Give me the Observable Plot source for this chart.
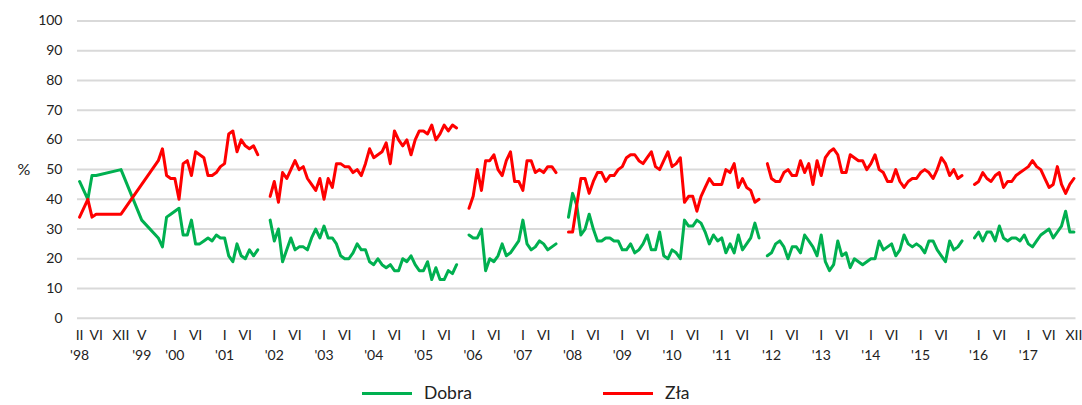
<!DOCTYPE html>
<html><head><meta charset="utf-8">
<script src="https://cdn.jsdelivr.net/npm/d3@7"></script>
<script src="https://cdn.jsdelivr.net/npm/@observablehq/plot@0.6"></script>
<style>
html,body{margin:0;padding:0;background:#fff;}
#wrap{position:relative;width:1082px;height:405px;font-family:Lato, "Open Sans", sans-serif;}
#chart svg{display:block;}
#legend{position:relative;height:33px;}
.item{position:absolute;top:10px;height:22px;line-height:22px;display:flex;align-items:center;font-size:17.5px;color:#222;white-space:nowrap;}
.sw{width:50px;height:3px;margin-right:12px;}
</style></head><body>
<div id="wrap"><div id="chart"></div><div id="legend"></div></div>
<script>
// Category index 0 = II 1998; one category per survey wave, empty slots split government terms.
const earlyWaves = [0, 2, 3, 4, 10, 15, 19];
const earlyDobra = [46, 40, 48, 48, 50, 33, 27];
const earlyZla   = [34, 40, 34, 35, 35, 45, 53];

// monthly waves, X 1999 – IX 2001
const start1 = 20;
const dobra1 = [24,34,35,36,37,28,28,33,25,25,26,27,26,28,27,27,21,19,25,21,20,23,21,23];
const zla1   = [57,48,47,47,40,52,53,48,56,55,54,48,48,49,51,52,62,63,56,60,58,57,58,55];
// XII 2001 – IX 2005
const start2 = 46;
const dobra2 = [33,26,30,19,23,27,23,24,24,23,27,30,27,31,27,27,25,21,20,20,22,25,23,23,19,18,20,18,17,18,16,16,20,19,21,18,16,16,19,13,17,13,13,16,15,18];
const zla2   = [41,46,39,49,47,50,53,50,51,47,45,43,47,40,47,44,52,52,51,51,49,50,48,52,57,54,55,56,59,52,63,60,58,60,55,60,63,63,62,65,60,62,65,63,65,64];
// XII 2005 – IX 2007
const start3 = 94;
const dobra3 = [28,27,27,30,16,20,19,21,25,21,22,24,26,33,25,23,24,26,25,23,24,25];
const zla3   = [37,41,50,43,53,53,55,50,48,53,56,46,46,43,53,53,49,50,49,51,51,49];
// XII 2007 – X 2011
const start4 = 118;
const dobra4 = [34,42,38,28,30,35,30,26,26,27,27,26,26,23,23,25,22,23,25,28,23,23,29,21,20,23,22,20,33,31,31,33,32,29,25,28,26,27,22,25,22,28,23,25,27,32,27];
const zla4   = [29,29,38,47,47,42,46,49,49,46,48,48,50,51,54,55,55,53,52,54,56,51,50,53,56,51,52,54,39,41,41,36,41,44,47,45,45,45,50,49,52,44,47,44,43,39,40];
// XII 2011 – 2015
const start5 = 166;
const dobra5 = [21,22,25,26,24,20,24,24,22,28,26,24,21,28,19,16,18,26,21,22,17,20,19,18,19,20,20,26,23,24,25,21,23,28,25,24,25,24,22,26,26,23,21,19,26,23,24,26];
const zla5   = [52,47,46,46,49,50,48,48,53,49,52,45,53,48,54,56,57,55,49,49,55,54,53,53,50,52,55,50,49,46,46,50,46,44,46,47,47,49,50,49,47,50,54,52,48,50,47,48];
// XII 2015 – XII 2017
const start6 = 216;
const dobra6 = [27,29,26,29,29,26,31,27,26,27,27,26,28,25,24,26,28,29,30,27,29,31,36,29,29];
const zla6   = [45,46,49,47,46,48,49,44,46,46,48,49,50,51,53,51,50,47,44,45,51,45,42,45,47];

const monthTickIdx = [0,4,10,15,23,28,35,40,47,52,59,64,71,76,83,88,95,100,107,112,119,124,131,136,143,148,155,160,167,172,179,184,191,196,203,208,217,222,229,234,240];
const monthTickLabels = ["II","VI","XII","V","I","VI","I","VI","I","VI","I","VI","I","VI","I","VI","I","VI","I","VI","I","VI","I","VI","I","VI","I","VI","I","VI","I","VI","I","VI","I","VI","I","VI","I","VI","XII"];
const yearTickIdx = [0,15,23,35,47,59,71,83,95,107,119,131,143,155,167,179,191,203,217,229];
const yearLabels = ["'98","'99","'00","'01","'02","'03","'04","'05","'06","'07","'08","'09","'10","'11","'12","'13","'14","'15","'16","'17"];
const yTicks = [0,10,20,30,40,50,60,70,80,90,100];

const seriesNames = ["Dobra", "Zła"];
const colors = ["#00b050", "#ff0000"];

// build table
const rows = [];
earlyWaves.forEach((w, k) => rows.push({i: w, seg: 0, dobra: earlyDobra[k], zla: earlyZla[k]}));
[[start1, dobra1, zla1], [start2, dobra2, zla2], [start3, dobra3, zla3],
 [start4, dobra4, zla4], [start5, dobra5, zla5], [start6, dobra6, zla6]]
  .forEach(([s, d, z], k) => d.forEach((v, j) => rows.push({i: s + j, seg: k, dobra: v, zla: z[j]})));

const monthLab = new Map(monthTickIdx.map((d, k) => [d, monthTickLabels[k]]));
const yearLab = new Map(yearTickIdx.map((d, k) => [d, yearLabels[k]]));

const chart = Plot.plot({
  width: 1082,
  height: 372,
  marginLeft: 77,
  marginRight: 6.5,
  marginTop: 20.5,
  marginBottom: 54.3,
  style: {fontFamily: "Lato, 'Open Sans', sans-serif", fontSize: "14px", color: "#222", background: "#fff"},
  x: {domain: [-0.5, 240.5]},
  y: {domain: [0, 100]},
  marks: [
    Plot.gridY(yTicks, {stroke: "#d9d9d9", strokeOpacity: 1, strokeWidth: 2}),
    Plot.axisY({ticks: yTicks, tickSize: 0, tickPadding: 15, label: null}),
    Plot.axisX({ticks: monthTickIdx, tickFormat: d => monthLab.get(d), tickSize: 0, tickPadding: 12, label: null}),
    Plot.axisX({ticks: yearTickIdx, tickFormat: d => yearLab.get(d), tickSize: 0, tickPadding: 32, label: null}),
    Plot.text(["%"], {frameAnchor: "left", dx: -60, fontSize: 16}),
    Plot.line(rows, {x: "i", y: "dobra", z: "seg", stroke: colors[0], strokeWidth: 3}),
    Plot.line(rows, {x: "i", y: "zla", z: "seg", stroke: colors[1], strokeWidth: 3})
  ]
});
document.getElementById("chart").appendChild(chart);

const legend = document.getElementById("legend");
const lefts = [362, 603];
seriesNames.forEach((name, k) => {
  const it = document.createElement("div");
  it.className = "item";
  it.style.left = lefts[k] + "px";
  const sw = document.createElement("span");
  sw.className = "sw";
  sw.style.background = colors[k];
  const tx = document.createElement("span");
  tx.textContent = name;
  it.appendChild(sw); it.appendChild(tx);
  legend.appendChild(it);
});
</script>
</body></html>
